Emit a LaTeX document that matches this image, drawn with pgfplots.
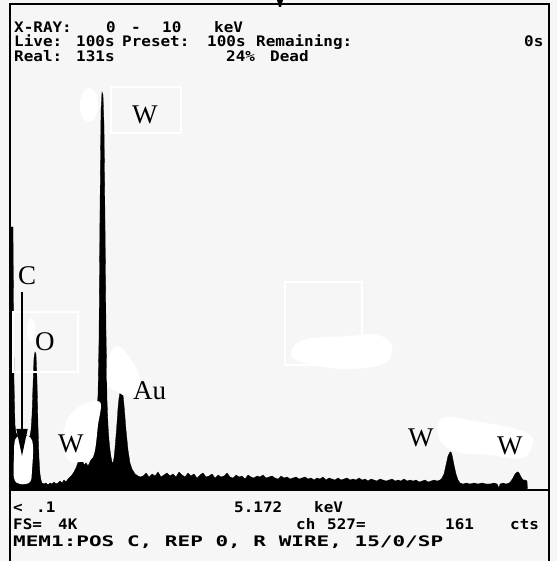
\documentclass[border=0pt]{standalone}
\usepackage{pgfplots}
\pgfplotsset{compat=1.18}
\usepackage{fontspec}
\usetikzlibrary{arrows.meta}
\newfontfamily\lblfont{Liberation Serif}
\newfontfamily\pxfont{DejaVu Sans Mono}
\definecolor{bg}{RGB}{246,246,246}
\newcommand{\T}[1]{\scalebox{1.1}[1]{\pxfont\bfseries\fontsize{14.5bp}{16bp}\selectfont #1}}
\newcommand{\Lab}[1]{{\lblfont\fontsize{27bp}{30bp}\selectfont #1}}
\pgfplotstableread{
E C
0.000 4208
0.057 4208
0.076 1760
0.095 1040
0.114 912
0.152 864
0.190 896
0.228 928
0.266 912
0.304 880
0.342 848
0.380 864
0.399 960
0.418 1200
0.437 1680
0.456 2112
0.475 2208
0.494 2176
0.513 1760
0.532 1040
0.551 512
0.570 256
0.589 160
0.608 112
0.646 96
0.684 112
0.722 80
0.760 112
0.798 96
0.836 128
0.874 96
0.912 112
0.950 144
0.988 112
1.026 160
1.064 128
1.102 176
1.140 208
1.178 240
1.216 288
1.254 352
1.292 448
1.330 528
1.349 544
1.368 496
1.406 400
1.444 432
1.482 384
1.520 448
1.558 560
1.577 640
1.596 800
1.615 928
1.634 1088
1.653 1280
1.672 1520
1.691 2400
1.710 4480
1.729 6080
1.748 6368
1.767 6320
1.786 5840
1.805 4320
1.824 2560
1.843 1440
1.862 1040
1.881 800
1.900 640
1.919 528
1.938 448
1.957 432
1.976 512
1.995 672
2.014 864
2.033 1072
2.052 1312
2.071 1472
2.090 1552
2.109 1568
2.128 1568
2.147 1520
2.166 1360
2.185 1168
2.204 960
2.223 800
2.242 640
2.280 432
2.318 336
2.375 256
2.432 224
2.470 208
2.527 224
2.584 272
2.641 208
2.698 256
2.755 224
2.812 288
2.869 208
2.926 240
2.983 272
3.040 224
3.097 256
3.154 208
3.211 288
3.268 240
3.325 208
3.382 272
3.439 224
3.496 256
3.553 192
3.610 240
3.667 272
3.724 208
3.781 224
3.838 256
3.895 192
3.952 240
4.009 208
4.066 224
4.123 272
4.180 208
4.237 192
4.294 240
4.351 208
4.408 224
4.465 176
4.522 240
4.579 208
4.636 192
4.693 224
4.750 208
4.807 240
4.864 192
4.921 208
4.978 224
5.035 192
5.092 176
5.149 224
5.206 192
5.263 208
5.320 176
5.377 192
5.434 208
5.491 176
5.548 192
5.605 208
5.662 176
5.719 192
5.776 160
5.833 192
5.890 176
5.947 208
6.004 160
6.061 192
6.118 176
6.175 160
6.232 192
6.289 160
6.346 176
6.403 192
6.460 160
6.517 176
6.574 160
6.631 192
6.688 160
6.745 176
6.802 144
6.859 176
6.916 160
6.973 144
7.030 176
7.087 160
7.144 144
7.201 160
7.258 176
7.315 144
7.372 160
7.429 144
7.486 176
7.543 144
7.600 160
7.657 144
7.714 160
7.771 128
7.828 144
7.885 160
7.942 128
7.999 144
8.056 160
8.113 144
8.170 160
8.208 192
8.246 256
8.284 400
8.322 544
8.360 608
8.379 608
8.398 560
8.436 400
8.474 256
8.512 160
8.550 112
8.607 96
8.664 112
8.740 96
8.816 112
8.892 96
8.968 112
9.044 96
9.120 96
9.196 112
9.253 96
9.291 32
9.310 96
9.367 112
9.424 96
9.481 112
9.519 144
9.557 192
9.595 256
9.633 288
9.652 288
9.671 272
9.709 208
9.747 160
9.785 160
9.823 144
9.833 0
}\spectrum
\begin{document}
\begin{tikzpicture}
\path[use as bounding box, fill=bg] (0,0) rectangle (557bp,561bp);
\begin{axis}[at={(10bp,71bp)}, anchor=south west, scale only axis,
  width=539bp, height=485bp, xmin=0, xmax=10.241, ymin=0, ymax=7760,
  axis lines=none, ticks=none]
\addplot[fill=black, draw=black, line width=0.3pt] table[x=E, y=C] {\spectrum} \closedcycle;
\end{axis}
\begin{scope}[yshift=561bp, x=1bp, y=-1bp]
  % erased (white) blobs
  \fill[white] plot[smooth cycle, tension=0.6] coordinates {(15,440) (20,436) (30,437) (33,447) (32,470) (30,482) (20,484) (14,478) (14,455)};
  \fill[white] plot[smooth cycle, tension=0.6] coordinates {(63,440) (68,418) (82,405) (100,402) (98,425) (93,457) (80,462) (68,460)};
  \fill[white] plot[smooth cycle, tension=0.6] coordinates {(107,365) (112,350) (120,347) (130,358) (140,378) (138,392) (128,397) (118,392) (108,385)};
  \fill[white] (89,105) ellipse [x radius=9, y radius=17];
  \fill[white] plot[smooth cycle, tension=0.6] coordinates {(442,418) (480,422) (520,430) (533,440) (523,458) (490,455) (457,452) (440,440)};
  \fill[white] plot[smooth cycle, tension=0.6] coordinates {(295,345) (312,338) (350,336) (372,334) (388,340) (392,352) (383,364) (350,369) (318,366) (293,358)};
  \fill[white] (31,330) ellipse [x radius=4, y radius=12];
  \draw[white, line width=1.5bp] (13,312) rectangle (78,372);
  \draw[white, line width=1.5bp] (111,87) rectangle (181,133);
  \draw[white, line width=1.5bp] (285,282) rectangle (362,365);
  % frame
  \draw[black, line width=1.5bp] (10,561) -- (10,4) -- (549,4) -- (549,561);
  \draw[black, line width=2.2bp] (10,490) -- (549,490);
  \fill[black] (277,0) -- (283,0) -- (281,7) -- (279,7) -- cycle;
  % arrow
  \draw[black, line width=1.5bp, -{Triangle[length=27bp, width=11bp]}] (22,292) -- (22,456);
  % labels
  \node[anchor=base west, inner sep=0] at (18,285) {\Lab{C}};
  \node[anchor=base west, inner sep=0] at (35,351) {\Lab{O}};
  \node[anchor=base west, inner sep=0] at (58,453) {\Lab{W}};
  \node[anchor=base west, inner sep=0] at (133,400) {\Lab{Au}};
  \node[anchor=base west, inner sep=0] at (132,124) {\Lab{W}};
  \node[anchor=base west, inner sep=0] at (408,447) {\Lab{W}};
  \node[anchor=base west, inner sep=0] at (497,455) {\Lab{W}};
  % header text
  \node[anchor=base west, inner sep=0] at (14,33) {\T{X-RAY:}};
  \node[anchor=base west, inner sep=0] at (106,33) {\T{0}};
  \node[anchor=base west, inner sep=0] at (131,33) {\T{-}};
  \node[anchor=base west, inner sep=0] at (162,33) {\T{10}};
  \node[anchor=base west, inner sep=0] at (214,33) {\T{keV}};
  \node[anchor=base west, inner sep=0] at (14,47) {\T{Live:}};
  \node[anchor=base west, inner sep=0] at (76,47) {\T{100s}};
  \node[anchor=base west, inner sep=0] at (122,47) {\T{Preset:}};
  \node[anchor=base west, inner sep=0] at (207,47) {\T{100s}};
  \node[anchor=base west, inner sep=0] at (256,47) {\T{Remaining:}};
  \node[anchor=base west, inner sep=0] at (524,47) {\T{0s}};
  \node[anchor=base west, inner sep=0] at (14,62) {\T{Real:}};
  \node[anchor=base west, inner sep=0] at (76,62) {\T{131s}};
  \node[anchor=base west, inner sep=0] at (226,62) {\T{24\%}};
  \node[anchor=base west, inner sep=0] at (270,62) {\T{Dead}};
  % bottom text
  \node[anchor=base west, inner sep=0] at (13,513) {\T{<}};
  \node[anchor=base west, inner sep=0] at (36,513) {\T{.1}};
  \node[anchor=base west, inner sep=0] at (234,513) {\T{5.172}};
  \node[anchor=base west, inner sep=0] at (314,513) {\T{keV}};
  \node[anchor=base west, inner sep=0] at (13,530) {\T{FS=}};
  \node[anchor=base west, inner sep=0] at (58,530) {\T{4K}};
  \node[anchor=base west, inner sep=0] at (296,530) {\T{ch}};
  \node[anchor=base west, inner sep=0] at (327,530) {\T{527=}};
  \node[anchor=base west, inner sep=0] at (445,530) {\T{161}};
  \node[anchor=base west, inner sep=0] at (510,530) {\T{cts}};
  \node[anchor=base west, inner sep=0] at (13,547) {\resizebox{430bp}{\height}{\pxfont\bfseries\fontsize{14.5bp}{16bp}\selectfont MEM1:POS C, REP 0, R WIRE, 15/0/SP}};
\end{scope}
\end{tikzpicture}
\end{document}
